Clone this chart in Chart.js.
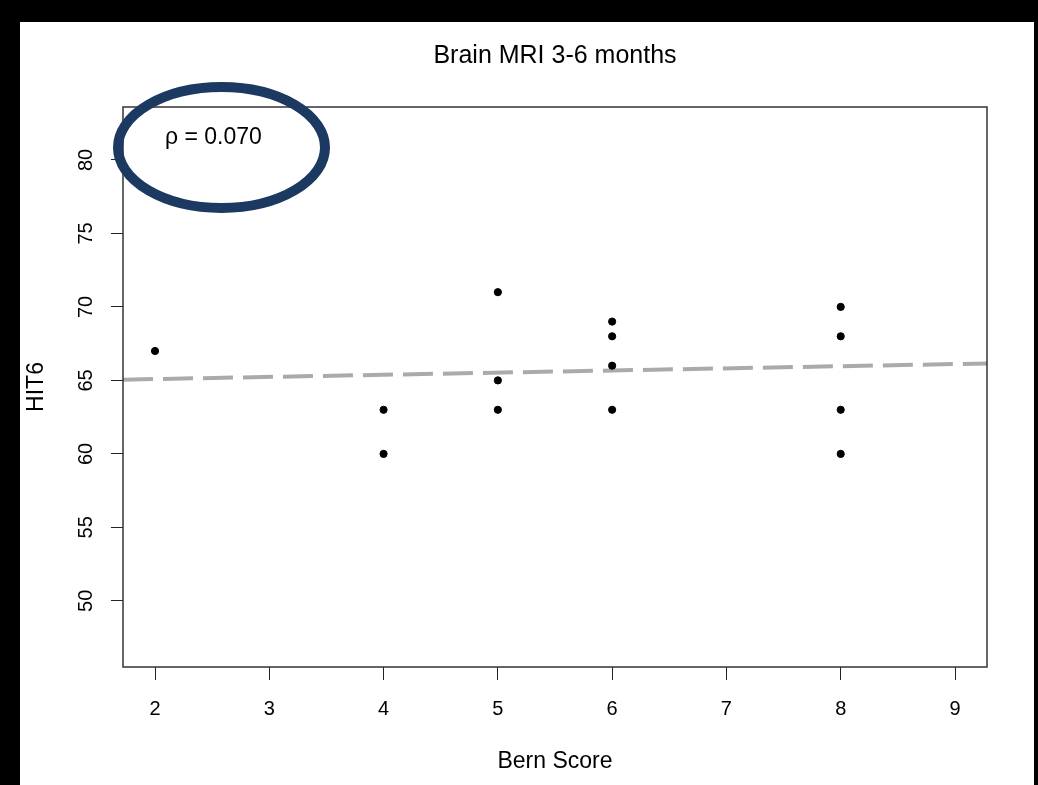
<!DOCTYPE html>
<html>
<head>
<meta charset="utf-8">
<script src="https://cdn.jsdelivr.net/npm/chart.js@4.4.1/dist/chart.umd.min.js"></script>
<style>
  html, body { margin: 0; padding: 0; background: #000; }
  #frame {
    position: absolute; left: 20px; top: 22px;
    width: 1014px; height: 763px; background: #fff;
  }
</style>
</head>
<body>
<div id="frame"><canvas id="chart" width="1014" height="763"></canvas></div>
<script>
// data
const bernScore = [2, 4, 4, 5, 5, 5, 6, 6, 6, 6, 8, 8, 8, 8];
const hit6 = [67, 63, 60, 71, 65, 63, 69, 68, 66, 63, 70, 68, 63, 60];
// dashed fit line, ends at the plot edges
const fitX = [1.72, 9.28];
const fitY = [65.05, 66.15];
const xTicks = [2, 3, 4, 5, 6, 7, 8, 9];
const yTicks = [50, 55, 60, 65, 70, 75, 80];
const rhoLabel = "ρ = 0.070";

const FONT = "'Liberation Sans', Arial, Helvetica, sans-serif";

// box round the plot + the circled rho note
const extras = {
  id: "extras",
  afterDatasetsDraw(chart) {
    const { ctx, chartArea: a } = chart;
    ctx.save();
    ctx.strokeStyle = "#333";
    ctx.lineWidth = 1.5;
    ctx.strokeRect(a.left, a.top, a.right - a.left, a.bottom - a.top);
    ctx.restore();
  },
  afterDraw(chart) {
    const { ctx, chartArea: a } = chart;
    ctx.save();
    ctx.fillStyle = "#000";
    ctx.font = "23px " + FONT;
    ctx.textAlign = "left";
    ctx.textBaseline = "middle";
    ctx.fillText(rhoLabel, a.left + 42, a.top + 31);

    ctx.strokeStyle = "#1b3961";
    ctx.lineWidth = 10;
    ctx.beginPath();
    ctx.ellipse(a.left + 98.5, a.top + 40.5, 103.5, 60.5, 0, 0, Math.PI * 2);
    ctx.stroke();
    ctx.restore();
  },
};

new Chart(document.getElementById("chart"), {
  type: "scatter",
  data: {
    datasets: [
      {
        type: "line",
        data: fitX.map((x, i) => ({ x, y: fitY[i] })),
        borderColor: "#aaaaaa",
        borderWidth: 4,
        borderDash: [30, 10],
        pointRadius: 0,
        fill: false,
        order: 2,
      },
      {
        data: bernScore.map((x, i) => ({ x, y: hit6[i] })),
        backgroundColor: "#000",
        borderColor: "#000",
        pointRadius: 3.6,
        order: 1,
      },
    ],
  },
  options: {
    responsive: false,
    animation: false,
    layout: { padding: { left: 0, right: 47, top: 0, bottom: 0 } },
    plugins: {
      legend: { display: false },
      tooltip: { enabled: false },
      title: {
        display: true,
        fullSize: false,
        text: "Brain MRI 3-6 months",
        color: "#000",
        font: { family: FONT, size: 25, weight: "normal" },
        padding: { top: 19.5, bottom: 35.5 },
      },
    },
    scales: {
      x: {
        type: "linear",
        min: 1.72,
        max: 9.28,
        afterBuildTicks: (s) => { s.ticks = xTicks.map((v) => ({ value: v })); },
        afterFit: (s) => { s.height = 118; },
        border: { display: false },
        grid: { drawOnChartArea: false, drawTicks: true, tickLength: 13, tickColor: "#222" },
        ticks: { color: "#000", padding: 17, font: { family: FONT, size: 20 }, maxRotation: 0 },
        title: {
          display: true,
          text: "Bern Score",
          color: "#000",
          font: { family: FONT, size: 23 },
          padding: { top: 0, bottom: 10 },
        },
      },
      y: {
        type: "linear",
        min: 45.5,
        max: 83.6,
        afterBuildTicks: (s) => { s.ticks = yTicks.map((v) => ({ value: v })); },
        afterFit: (s) => { s.width = 103; },
        border: { display: false },
        grid: { drawOnChartArea: false, drawTicks: true, tickLength: 12, tickColor: "#222" },
        ticks: {
          color: "#000",
          padding: 13,
          crossAlign: "center",
          minRotation: 90,
          maxRotation: 90,
          font: { family: FONT, size: 20 },
        },
        title: {
          display: true,
          text: "HIT6",
          color: "#000",
          font: { family: FONT, size: 23 },
          padding: { top: 3, bottom: 0 },
        },
      },
    },
  },
  plugins: [extras],
});
</script>
</body>
</html>
